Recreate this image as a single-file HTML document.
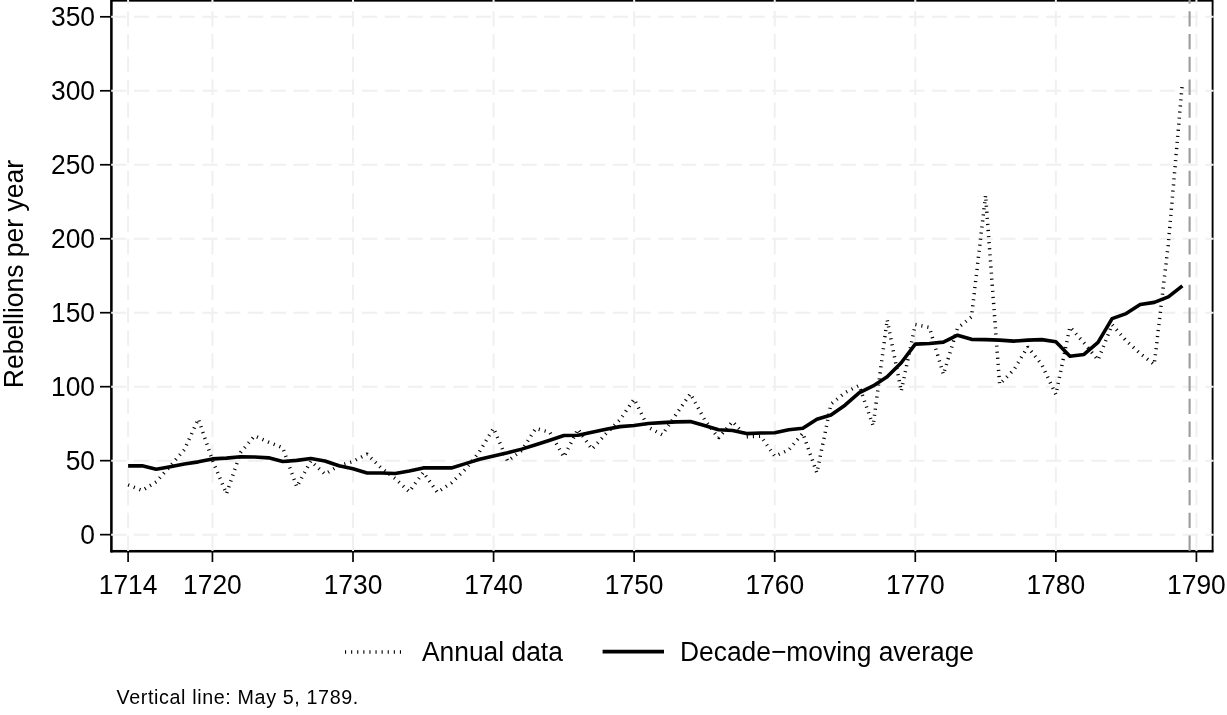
<!DOCTYPE html><html><head><meta charset="utf-8"><style>html,body{margin:0;padding:0;background:#fff;overflow:hidden;width:1227px;height:715px;}svg{display:block;filter:grayscale(1);}text{font-family:"Liberation Sans",sans-serif;fill:#000;}</style></head><body>
<svg width="1227" height="715" viewBox="0 0 1227 715">
<rect x="0" y="0" width="1227" height="715" fill="#fff"/>
<rect x="111.1" y="0.7" width="1101.50" height="550.20" fill="none" stroke="#000" stroke-width="1.9"/>
<line x1="111.7" y1="0" x2="111.7" y2="552.4" stroke="#000" stroke-width="1.9"/>
<line x1="110.15" y1="551.45" x2="1213.5" y2="551.45" stroke="#000" stroke-width="1.9"/>
<line x1="111.1" y1="534.65" x2="1213.6" y2="534.65" stroke="#f0f0f0" stroke-width="2" stroke-dasharray="15.3 7.5"/>
<line x1="111.1" y1="460.67" x2="1213.6" y2="460.67" stroke="#f0f0f0" stroke-width="2" stroke-dasharray="15.3 7.5"/>
<line x1="111.1" y1="386.69" x2="1213.6" y2="386.69" stroke="#f0f0f0" stroke-width="2" stroke-dasharray="15.3 7.5"/>
<line x1="111.1" y1="312.71" x2="1213.6" y2="312.71" stroke="#f0f0f0" stroke-width="2" stroke-dasharray="15.3 7.5"/>
<line x1="111.1" y1="238.74" x2="1213.6" y2="238.74" stroke="#f0f0f0" stroke-width="2" stroke-dasharray="15.3 7.5"/>
<line x1="111.1" y1="164.76" x2="1213.6" y2="164.76" stroke="#f0f0f0" stroke-width="2" stroke-dasharray="15.3 7.5"/>
<line x1="111.1" y1="90.78" x2="1213.6" y2="90.78" stroke="#f0f0f0" stroke-width="2" stroke-dasharray="15.3 7.5"/>
<line x1="111.1" y1="16.80" x2="1213.6" y2="16.80" stroke="#f0f0f0" stroke-width="2" stroke-dasharray="15.3 7.5"/>
<line x1="128.10" y1="550.9" x2="128.10" y2="-1" stroke="#f0f0f0" stroke-width="2" stroke-dasharray="15.3 7.5"/>
<line x1="212.44" y1="550.9" x2="212.44" y2="-1" stroke="#f0f0f0" stroke-width="2" stroke-dasharray="15.3 7.5"/>
<line x1="353.01" y1="550.9" x2="353.01" y2="-1" stroke="#f0f0f0" stroke-width="2" stroke-dasharray="15.3 7.5"/>
<line x1="493.58" y1="550.9" x2="493.58" y2="-1" stroke="#f0f0f0" stroke-width="2" stroke-dasharray="15.3 7.5"/>
<line x1="634.15" y1="550.9" x2="634.15" y2="-1" stroke="#f0f0f0" stroke-width="2" stroke-dasharray="15.3 7.5"/>
<line x1="774.72" y1="550.9" x2="774.72" y2="-1" stroke="#f0f0f0" stroke-width="2" stroke-dasharray="15.3 7.5"/>
<line x1="915.29" y1="550.9" x2="915.29" y2="-1" stroke="#f0f0f0" stroke-width="2" stroke-dasharray="15.3 7.5"/>
<line x1="1055.86" y1="550.9" x2="1055.86" y2="-1" stroke="#f0f0f0" stroke-width="2" stroke-dasharray="15.3 7.5"/>
<line x1="1196.43" y1="550.9" x2="1196.43" y2="-1" stroke="#f0f0f0" stroke-width="2" stroke-dasharray="15.3 7.5"/>
<line x1="1189.6" y1="550.9" x2="1189.6" y2="-1" stroke="#9c9c9c" stroke-width="2.1" stroke-dasharray="15.3 7.5"/>
<line x1="100" y1="534.65" x2="111.1" y2="534.65" stroke="#000" stroke-width="1.7"/>
<line x1="100" y1="460.67" x2="111.1" y2="460.67" stroke="#000" stroke-width="1.7"/>
<line x1="100" y1="386.69" x2="111.1" y2="386.69" stroke="#000" stroke-width="1.7"/>
<line x1="100" y1="312.71" x2="111.1" y2="312.71" stroke="#000" stroke-width="1.7"/>
<line x1="100" y1="238.74" x2="111.1" y2="238.74" stroke="#000" stroke-width="1.7"/>
<line x1="100" y1="164.76" x2="111.1" y2="164.76" stroke="#000" stroke-width="1.7"/>
<line x1="100" y1="90.78" x2="111.1" y2="90.78" stroke="#000" stroke-width="1.7"/>
<line x1="100" y1="16.80" x2="111.1" y2="16.80" stroke="#000" stroke-width="1.7"/>
<line x1="128.10" y1="550.9" x2="128.10" y2="562" stroke="#000" stroke-width="1.7"/>
<line x1="212.44" y1="550.9" x2="212.44" y2="562" stroke="#000" stroke-width="1.7"/>
<line x1="353.01" y1="550.9" x2="353.01" y2="562" stroke="#000" stroke-width="1.7"/>
<line x1="493.58" y1="550.9" x2="493.58" y2="562" stroke="#000" stroke-width="1.7"/>
<line x1="634.15" y1="550.9" x2="634.15" y2="562" stroke="#000" stroke-width="1.7"/>
<line x1="774.72" y1="550.9" x2="774.72" y2="562" stroke="#000" stroke-width="1.7"/>
<line x1="915.29" y1="550.9" x2="915.29" y2="562" stroke="#000" stroke-width="1.7"/>
<line x1="1055.86" y1="550.9" x2="1055.86" y2="562" stroke="#000" stroke-width="1.7"/>
<line x1="1196.43" y1="550.9" x2="1196.43" y2="562" stroke="#000" stroke-width="1.7"/>
<polyline points="128.10,484.94 142.16,490.56 156.21,481.83 170.27,466.00 184.33,449.72 198.38,418.95 212.44,460.38 226.50,493.81 240.56,452.53 254.61,435.81 268.67,442.18 282.73,447.80 296.78,486.86 310.84,460.97 324.90,474.14 338.96,465.70 353.01,461.56 367.07,454.01 381.13,467.92 395.18,478.57 409.24,491.74 423.30,472.36 437.35,492.33 451.41,482.87 465.47,469.25 479.52,451.65 493.58,428.27 507.64,461.12 521.70,450.46 535.75,428.42 549.81,432.26 563.87,456.97 577.92,429.16 591.98,449.28 606.04,433.60 620.10,419.69 634.15,399.12 648.21,427.23 662.27,434.78 676.32,414.07 690.38,393.65 704.44,419.39 718.49,438.03 732.55,421.61 746.61,436.85 760.67,436.11 774.72,456.23 788.78,449.87 802.84,433.15 816.89,472.80 830.95,404.15 845.01,392.61 859.06,385.51 873.12,425.75 887.18,319.67 901.24,391.13 915.29,324.55 929.35,327.36 943.41,374.41 957.46,328.25 971.52,316.86 985.58,195.38 999.63,384.33 1013.69,369.97 1027.75,346.89 1041.81,364.65 1055.86,394.53 1069.92,326.92 1083.98,342.90 1098.03,360.06 1112.09,324.55 1126.15,340.83 1140.20,353.55 1154.26,364.50 1168.32,244.06 1182.38,82.64" fill="none" stroke="#000" stroke-width="3.5" stroke-dasharray="1.1 5" stroke-linejoin="bevel"/>
<polyline points="128.10,465.85 142.16,465.85 156.21,469.25 170.27,466.74 184.33,463.93 198.38,461.86 212.44,458.90 226.50,458.16 240.56,456.68 254.61,456.97 268.67,457.86 282.73,461.56 296.78,460.38 310.84,458.45 324.90,460.97 338.96,465.70 353.01,468.81 367.07,472.95 381.13,472.95 395.18,473.54 409.24,471.03 423.30,467.92 437.35,467.92 451.41,467.92 465.47,463.63 479.52,459.19 493.58,455.94 507.64,452.83 521.70,449.13 535.75,444.69 549.81,440.25 563.87,435.52 577.92,435.22 591.98,432.26 606.04,429.16 620.10,426.64 634.15,425.46 648.21,423.53 662.27,422.65 676.32,421.91 690.38,421.61 704.44,425.46 718.49,429.75 732.55,430.49 746.61,433.60 760.67,433.00 774.72,432.71 788.78,429.75 802.84,428.27 816.89,419.24 830.95,414.95 845.01,405.19 859.06,392.91 873.12,385.95 887.18,376.78 901.24,362.72 915.29,344.08 929.35,343.49 943.41,342.16 957.46,335.20 971.52,339.35 985.58,339.64 999.63,340.09 1013.69,341.12 1027.75,340.09 1041.81,339.64 1055.86,341.71 1069.92,356.21 1083.98,354.44 1098.03,342.45 1112.09,318.63 1126.15,313.60 1140.20,304.58 1154.26,302.36 1168.32,296.88 1182.38,285.93" fill="none" stroke="#000" stroke-width="3.6" stroke-linejoin="round"/>
<text transform="translate(95,544.05) scale(1,1.05)" font-size="26.4" text-anchor="end">0</text>
<text transform="translate(95,470.07) scale(1,1.05)" font-size="26.4" text-anchor="end">50</text>
<text transform="translate(95,396.09) scale(1,1.05)" font-size="26.4" text-anchor="end">100</text>
<text transform="translate(95,322.11) scale(1,1.05)" font-size="26.4" text-anchor="end">150</text>
<text transform="translate(95,248.14) scale(1,1.05)" font-size="26.4" text-anchor="end">200</text>
<text transform="translate(95,174.16) scale(1,1.05)" font-size="26.4" text-anchor="end">250</text>
<text transform="translate(95,100.18) scale(1,1.05)" font-size="26.4" text-anchor="end">300</text>
<text transform="translate(95,26.20) scale(1,1.05)" font-size="26.4" text-anchor="end">350</text>
<text transform="translate(128.10,594.4) scale(1,1.05)" font-size="26.4" text-anchor="middle">1714</text>
<text transform="translate(212.44,594.4) scale(1,1.05)" font-size="26.4" text-anchor="middle">1720</text>
<text transform="translate(353.01,594.4) scale(1,1.05)" font-size="26.4" text-anchor="middle">1730</text>
<text transform="translate(493.58,594.4) scale(1,1.05)" font-size="26.4" text-anchor="middle">1740</text>
<text transform="translate(634.15,594.4) scale(1,1.05)" font-size="26.4" text-anchor="middle">1750</text>
<text transform="translate(774.72,594.4) scale(1,1.05)" font-size="26.4" text-anchor="middle">1760</text>
<text transform="translate(915.29,594.4) scale(1,1.05)" font-size="26.4" text-anchor="middle">1770</text>
<text transform="translate(1055.86,594.4) scale(1,1.05)" font-size="26.4" text-anchor="middle">1780</text>
<text transform="translate(1196.43,594.4) scale(1,1.05)" font-size="26.4" text-anchor="middle">1790</text>
<text transform="translate(23.2,388.2) rotate(-90) scale(1,1.05)" font-size="26.5">Rebellions per year</text>
<line x1="345" y1="651.9" x2="401" y2="651.9" stroke="#000" stroke-width="3.5" stroke-dasharray="1.1 5"/>
<text transform="translate(422,661.0) scale(1,1.05)" font-size="26.4">Annual data</text>
<line x1="602.6" y1="651.6" x2="664" y2="651.6" stroke="#000" stroke-width="3.6"/>
<text transform="translate(680,661.1) scale(1,1.05)" font-size="26.4">Decade−moving average</text>
<text x="116.5" y="704.4" font-size="19.7" letter-spacing="0.63">Vertical line: May 5, 1789.</text>
</svg></body></html>
